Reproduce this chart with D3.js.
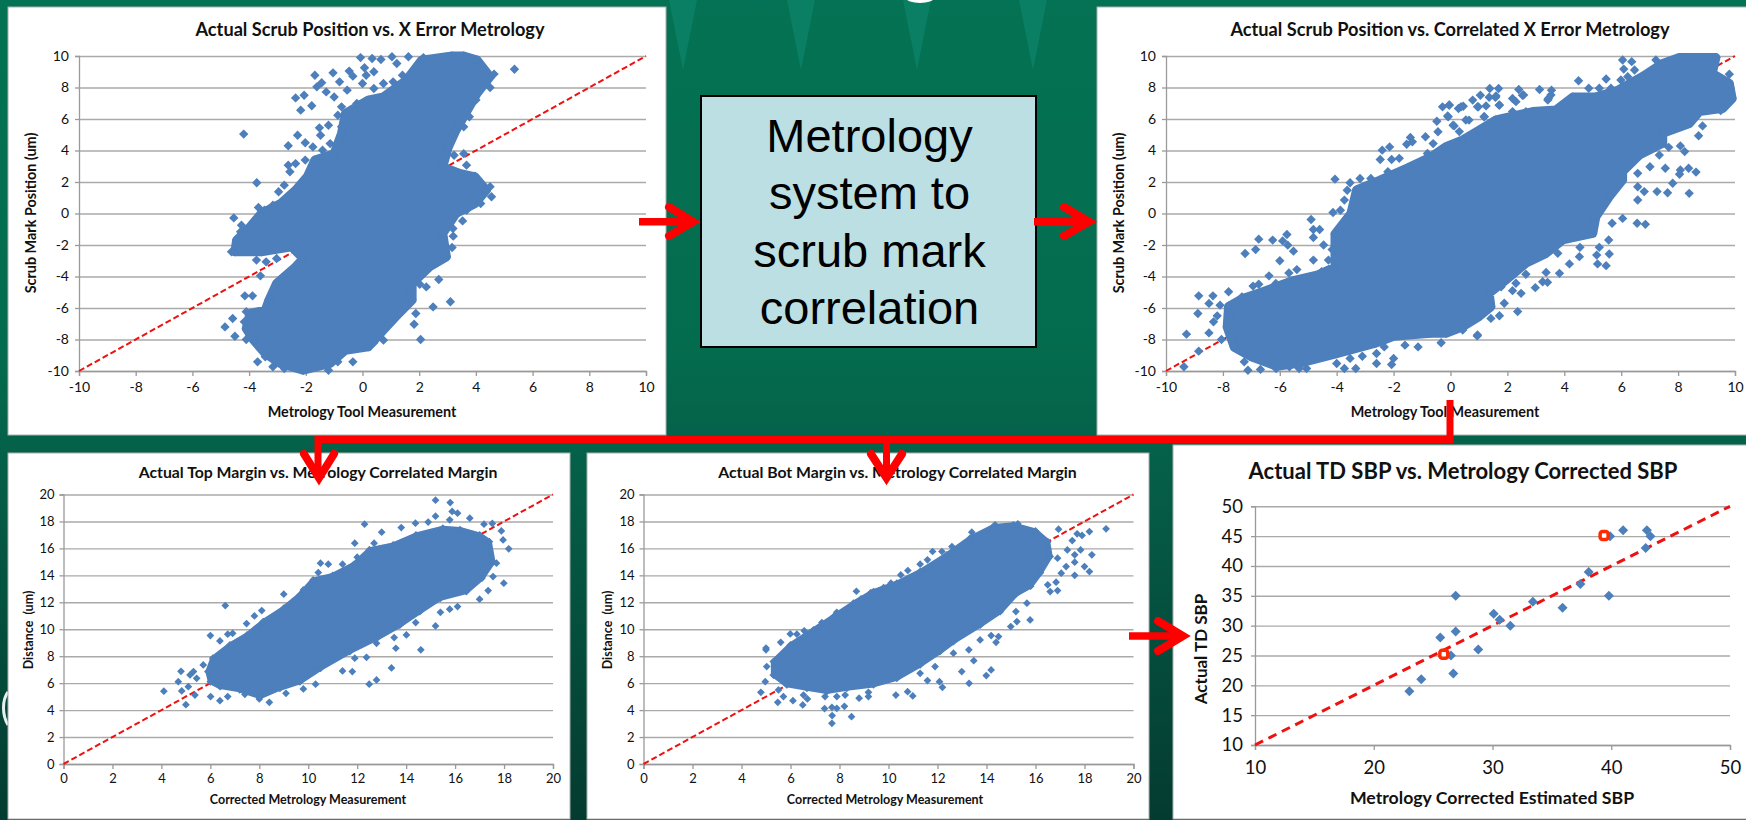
<!DOCTYPE html>
<html>
<head>
<meta charset="utf-8">
<title>Metrology correlation</title>
<script src="https://cdnjs.cloudflare.com/ajax/libs/d3/7.8.5/d3.min.js"></script>
<style>
	html, body { margin: 0; padding: 0; background: #05604a; overflow: hidden; }
	svg { display: block; }
	text { font-family: Lato, "Open Sans", sans-serif; fill: #111; }
	.grid path { display: none; }
	.grid text { display: none; }
</style>
</head>
<body>
<svg id="page" width="1746" height="820"></svg>
<script>

// Tick labels
var scrubTicks = [-10, -8, -6, -4, -2, 0, 2, 4, 6, 8, 10];
var marginTicks = [0, 2, 4, 6, 8, 10, 12, 14, 16, 18, 20];
var sbpTicksX = [10, 20, 30, 40, 50];
var sbpTicksY = [10, 15, 20, 25, 30, 35, 40, 45, 50];

// Scrub vs. X error: outline of the solid part of the cloud, then the loose points
var scrubOutline = [[3.16,10],[2.09,9.74],[1.55,8.47],[0.74,7.4],[0.2,7.2],[-0.6,6.35],[-0.74,5.08],[-1,3.8],[-1.68,3.39],[-1.95,2.33],[-2.36,1.48],[-2.89,0.63],[-3.57,0],[-3.97,-0.85],[-4.44,-1.69],[-4.5,-2.43],[-3.57,-2.43],[-2.5,-2.12],[-2.09,-2.86],[-2.36,-3.39],[-3.03,-4.44],[-3.3,-5.5],[-3.43,-6.14],[-3.97,-6.35],[-4.1,-7.3],[-3.84,-8.04],[-3.43,-8.89],[-2.9,-9.52],[-2.09,-9.95],[-1.14,-9.52],[-0.6,-8.68],[0.2,-8.47],[0.74,-7.4],[1.28,-6.35],[1.75,-5.5],[1.75,-4.44],[2.36,-3.39],[2.96,-2.75],[2.83,-1.27],[3.3,0],[3.97,0.63],[4.37,1.48],[3.97,2.33],[3.43,2.54],[2.83,2.96],[3.03,4.23],[3.3,5.29],[3.7,6.56],[4.04,7.62],[4.5,8.68],[4.04,9.74],[3.57,10]];
var scrubPoints = [[5.36,9.16],[4.64,8.85],[4.5,8],[4.35,8.8],[4,7.2],[3.77,6.14],[3.57,5.5],[3.23,3.7],[3.57,3.8],[3.67,3.07],[3.97,2.37],[4.5,1.7],[4.55,1.06],[4.17,0.63],[3.67,0.2],[3.53,-0.47],[3.19,-0.95],[3.2,-1.44],[3.16,-2.16],[2.93,-2.65],[2.69,-4.19],[2.25,-4.66],[2.02,-4.49],[2.49,-5.93],[3.1,-5.6],[2.05,-8],[1.82,-7.03],[1.88,-6.35],[0.74,-8.04],[0.4,-8.2],[-0.34,-9.42],[-0.87,-9.42],[-1.2,-9.95],[-3.7,-9.42],[-3.16,-9.73],[-2.76,-9.84],[-3.43,-9.1],[-4.1,-8],[-4.5,-7.79],[-4.85,-7.2],[-4.58,-6.67],[-4.17,-6.88],[-4.1,-6.24],[-4.15,-5.23],[-3.88,-5.23],[-3.6,-3.96],[-3.74,-2.96],[-3.4,-3.07],[-3.03,-2.86],[-4.62,-2.43],[-4.3,-2.33],[-4.54,-0.28],[-4.27,-0.74],[-4.3,-1.16],[-3.67,0.38],[-3.46,0.21],[-3.16,0.53],[-3.73,1.95],[-2.96,1.38],[-2.76,1.8],[-4.19,5.04],[-2.62,4.3],[-2.29,4.97],[-2.56,2.65],[-2.62,3.07],[-2.36,3.17],[-2.02,3.39],[-2.36,7.34],[-2.06,7.51],[-2.18,6.56],[-1.79,6.84],[-1.68,8.78],[-1.44,8.3],[-1.61,8.04],[-1.28,7.72],[-1.04,8.93],[-0.81,8.36],[-0.47,9.04],[-0.34,8.72],[-0.07,9.9],[0.07,9.25],[0,8.25],[0.34,9.84],[0.65,9.78],[1.04,9.95],[1.21,9.52],[1.62,9.95],[1.92,9],[2.15,9.9],[0.4,9],[0.13,8.78],[0.74,8.25],[1.08,8.36],[1.41,8.78],[0.4,7.94],[-1,7.4],[-0.87,6.24],[-0.74,6.77],[-0.54,7.83],[-0.2,6.98],[-1.2,5.6],[-1.52,5.44],[-0.74,5.5],[-1.48,4.97],[-2.02,4.49],[-1.75,4.23],[-1.41,4.02],[-1.14,4.44]];

// Scrub vs. correlated X error
var correlatedOutline = [[-7.8,-5.9],[-7.3,-5.4],[-6.5,-4.9],[-5.6,-4.3],[-4.66,-3.9],[-4.06,-3.4],[-4.06,-1.3],[-3.5,0],[-3.3,1.5],[-2.5,2.1],[-1.5,2.9],[-0.68,3.6],[-0.16,4.24],[0.43,4.67],[1.01,5.3],[1.6,5.94],[2.89,6.47],[3.7,6.57],[4.3,7.4],[5.1,7.4],[5.9,7.84],[6.75,8.7],[7.46,9.53],[8.04,9.9],[9.33,9.9],[9.2,8.9],[9.8,8.26],[9.9,7.3],[9.57,6.68],[8.75,6.47],[8.4,5.72],[7.46,5.09],[7.46,4.46],[6.64,3.71],[6.05,2.66],[6.05,2.13],[5.58,1.07],[5.11,-0.2],[5,-1.26],[3.94,-1.68],[3.36,-2.53],[2.65,-3.16],[1.95,-4.22],[1.36,-5.07],[1.42,-5.92],[1,-6.55],[0.43,-7.19],[-0.16,-7.6],[-0.7,-7.6],[-2,-7.8],[-2.67,-8.25],[-4,-8.9],[-5.3,-9.5],[-6.1,-9.7],[-7,-9.1],[-7.6,-8.5],[-7.85,-7.2]];
var correlatedPoints = [[-9.37,-9.73],[-9.28,-7.66],[-8.85,-8.74],[-8.85,-5.23],[-8.88,-6.35],[-8.49,-5.71],[-8.35,-5.23],[-8.1,-5.82],[-8.49,-7.58],[-8.33,-6.88],[-8.2,-6.5],[-8.05,-8],[-7.8,-4.97],[-7.33,-5.29],[-6.94,-4.61],[-6.74,-4.49],[-6.38,-3.96],[-6.14,-4.44],[-6,-3],[-5.68,-3.77],[-5.4,-3.56],[-7.22,-2.54],[-6.85,-2.29],[-6.74,-1.63],[-6.25,-1.69],[-5.9,-1.74],[-5.75,-1.33],[-5.72,-2.01],[-5.52,-2.39],[-4.9,-0.38],[-4.82,-1.02],[-4.6,-1.02],[-4.82,-1.52],[-4.46,-2],[-4.16,-2.29],[-4.82,-2.96],[-4.29,-2.96],[-4.53,-3.7],[-4.13,0.06],[-3.87,0.21],[-3.73,0.85],[-3.63,1.48],[-4.06,2.18],[-3.53,1.95],[-3.18,2.22],[-2.8,2.22],[-2.2,2.65],[-2.47,3.43],[-2.4,4.02],[-2.14,4.23],[-2.07,3.43],[-1.8,3.5],[-1.54,4.4],[-1.41,4.83],[-1.34,4.55],[-0.88,4.87],[-0.81,3.81],[-0.61,4.44],[-0.48,5.86],[-0.44,5.19],[-0.28,6.77],[-0.05,6.88],[-0.08,6.14],[0.28,6.67],[0.45,6.81],[0.09,5.6],[0.65,5.93],[0.78,7.2],[1.05,7.51],[0.98,6.77],[1.38,7.94],[1.69,7.94],[1.58,7.37],[1.71,6.88],[1.18,6.14],[2.18,7.3],[2.4,7.87],[2.53,7.51],[3.13,7.87],[3.55,7.83],[3.44,7.3],[2.65,6.46],
	[4.5,8.43],[5.47,8.54],[6.05,9.75],[6.37,9.64],[6.09,9.17],[6.47,9.11],[7.22,9.75],[5.99,8.48],[6.23,8.69],[4.86,7.95],[5.23,7.95],[5.64,7.95],[3.53,7.52],[3.42,7.21],[2.57,7.52],[1.36,7.38],[1.6,7.46],[1.72,6.89],[1.25,6.83],[0.95,6.78],[2.3,7.1],[2.18,6.47],[0.37,6.78],[-0.04,6.89],[-0.1,6.19],[0.54,5.94],[0.13,5.56],[0.31,5.2],[1.19,6.15],[9.8,8.84],[9.5,6.53],[8.86,5.56],[8.72,4.94],[8.08,4.29],[8.23,3.93],[7.67,4.2],[7.34,3.71],[7.01,2.97],[7.55,2.87],[8.08,2.76],[8.37,2.87],[8.63,2.63],[8.05,2.49],[7.81,1.92],[8.39,1.28],[7.26,1.39],[7.63,1.32],[6.81,1.39],[6.58,2.55],[6.58,1.7],[6.58,0.86],[6.05,-0.31],[6.56,-0.62],[6.85,-0.69],[5.68,-0.62],[5.56,-1.68],[5.23,-2.15],[5.58,-2.57],[5.14,-2.64],[5.17,-3.2],[5.47,-3.31],[4.55,-2.15],[4.53,-2.74],[4.18,-3.2],[3.83,-3.8],[3.77,-2.53],[3.36,-3.74],[2.65,-3.86],[3.24,-4.33],[3.41,-4.37],[2.98,-4.71],[2.3,-4.43],[2.48,-5.07],[2.18,-4.9],[1.78,-4.65],[1.89,-5.7],[2.36,-6.23],[1.72,-6.49],[1.42,-6.66],[1.07,-6.44],[0.95,-7.71],[0.43,-7.4],[-0.04,-7.5],
	[0.94,-7.77],[-0.33,-8.21],[-1.14,-8.47],[-1.6,-8.36],[-2,-9.2],[-2.07,-9.59],[-2.6,-9.52],[-2.6,-8.89],[-2.33,-8.47],[-3.1,-9.06],[-3.33,-9.84],[-3.73,-9.84],[-3.53,-9.2],[-4,-9.52],[-5.06,-9.84],[-5.32,-9.84],[-5.66,-9.73],[-6.13,-9.84],[-6.68,-9.9],[-7.12,-9.95],[-7.25,-9.42]];

// Top margin
var topOutline = [[5.9,6.86],[6.1,7.85],[6.8,8.84],[7.5,9.58],[8.16,10.57],[9,11.56],[9.66,12.55],[10.2,13.66],[11,14],[11.84,14.78],[12.5,15.9],[13.47,16.26],[14.4,17],[15.5,17.5],[16.2,17.4],[17,17],[17.4,16.5],[17.55,15],[17.1,13.8],[16.46,12.8],[15.4,12.3],[14.56,11.3],[13.74,10.3],[12.8,9.33],[11.7,8.34],[10.5,7.1],[9.66,6.1],[8.84,5.62],[8.03,5],[7.2,5.5],[6.4,5.74],[6,6.1]];
var topPoints = [[4.1,5.4],[5,4.4],[4.83,5.42],[4.69,6.11],[4.8,6.88],[5.37,5.12],[5.1,5.74],[6.01,5],[6.39,4.7],[6.71,5],[7.41,5.17],[8,4.83],[8.41,4.58],[9.09,5.25],[9.8,5.57],[10.3,5.92],[11.4,6.91],[11.8,6.86],[12.49,5.92],[12.79,6.24],[13.4,7.13],[14.6,8.47],[15.2,10.25],[13.58,8.59],[13.51,9.38],[11.9,7.85],[12.38,7.92],[12.79,8.96],[14.01,9.58],[14.39,10.5],[15.4,11.26],[15.78,11.49],[16.1,11.68],[17,12.23],[17.35,12.87],[17.99,13.42],[17.55,13.91],[17.69,14.9],[18.19,15.97],[17.96,16.63],[17.89,17.3],[17.52,17.85],[17.18,17.8],[16.6,18.24],[16.1,18.61],[15.78,18.12],[15.88,18.74],[15.8,19.4],[15.2,19.58],[15.2,18.39],[14.9,17.95],[14.38,17.87],[13.8,17.55],[13,17.2],[12.3,17.8],[11.9,16.39],[12.69,16.39],[12,15.35],[11.4,14.83],[10.82,14.83],[10.5,14.9],[10.41,14.21],[9.8,12.92],[9,12.6],[8.1,11.39],[7.8,10.99],[7.48,10.42],[6.61,11.76],[6,9.53],[6.39,9.13],[6.71,9.63],[6.91,9.7],[5.71,7.35],[5.44,6.36],[5.17,6.61],[5.31,6.86]];

// Bottom margin
var botOutline = [[5.3,7.6],[6,8.84],[6.94,9.95],[7.76,10.94],[8.57,11.93],[9.39,12.8],[10.34,13.42],[11.29,14.28],[12.38,15.52],[13.33,16.76],[14.29,17.62],[15.1,17.75],[16,17.3],[16.5,16.5],[16.6,15.4],[16.2,14.2],[15.8,13.2],[15.2,12.6],[14.56,11.3],[13.74,10.3],[12.65,9.08],[12.1,8.34],[11.29,7.35],[10.34,6.36],[9.39,5.87],[8.3,5.62],[7.48,5.37],[6.67,5.62],[5.85,5.87],[5.3,6.6]];
var botPoints = [[4.79,5.32],[5.48,4.58],[6.1,4.7],[6.5,4.38],[6.69,4.83],[6.53,5.12],[5.71,5],[5.51,5.5],[7.39,4.11],[7.69,4.21],[7.89,4.13],[8.2,4.28],[7.7,3.59],[7.69,3.02],[8.49,3.51],[7.41,5],[7.89,5],[8.23,5.12],[8.8,4.88],[9.18,5],[9.18,5.32],[10.3,5.12],[10.78,5.37],[10.99,5.05],[11.59,6.19],[12.08,6.11],[12.2,5.69],[13.29,5.99],[12.99,6.86],[13.99,6.56],[14.19,6.98],[13.48,7.67],[13.28,8.47],[12.65,8.22],[11.9,7.23],[11.29,6.73],[14.39,9.03],[14.49,9.46],[14.19,9.53],[13.74,9.21],[14.99,10.2],[15.24,10.57],[15.78,10.69],[15.2,11.31],[15.65,11.93],[5,8.47],[5,8.6],[5.6,9.03],[5.03,7.23],[4.97,6.11],[5.99,9.65],[6.26,9.63],[6.56,9.88],[7.28,10.5],[7.69,10.64],[7.89,11.26],[8.44,11.56],[8.69,12.82],[8.88,12.25],[9.28,12.72],[9.8,13.09],[10.1,13.42],[10.5,14.03],[10.79,14.36],[11.29,14.83],[11.59,15.15],[11.8,15.77],[12.18,15.77],[12.59,16.14],[13.4,17.2],[14.35,17.75],[15.28,17.82],[18.88,17.45],[18.2,17.25],[17.9,16.96],[17.7,17.08],[17.5,16.58],[16.94,17.43],[17.3,15.89],[17.84,15.89],[18.3,15.52],[17.6,15.52],[17.6,14.98],[18,14.65],[18.2,14.28],[17.6,14],[17.25,14.65],[16.9,12.87],[16.6,12.8],[16.84,13.49],[17.05,14.16],[16.5,13.3],[16.9,15.27]];

// SBP
var sbpEstimated = [23, 24, 25.6, 26.5, 26.7, 26.9, 26.9, 28.8, 30.1, 30.6, 31.5, 33.4, 35.9, 37.4, 38.1, 39.8, 39.9, 41, 42.9, 43, 43.3];
var sbpActual = [19, 21, 28, 25, 22, 35, 29, 26, 32, 31, 30, 34, 33, 37, 39, 35, 45, 46, 43, 46, 45];
var sbpFlagged = [[25.9, 25.2], [39.4, 45.1]];

var boxLines = ["Metrology", "system to", "scrub mark", "correlation"];

var svg = d3.select("#page");

// Background
var defs = svg.append("defs");
var bg = defs.append("linearGradient").attr("id", "bg").attr("x1", 0).attr("y1", 0).attr("x2", 0).attr("y2", 1);
bg.append("stop").attr("offset", "0").attr("stop-color", "#047254");
bg.append("stop").attr("offset", "0.42").attr("stop-color", "#046c4e");
bg.append("stop").attr("offset", "0.58").attr("stop-color", "#055e48");
bg.append("stop").attr("offset", "1").attr("stop-color", "#043b30");
svg.append("rect").attr("width", 1746).attr("height", 820).attr("fill", "url(#bg)");

[683, 801, 917, 1033].forEach(function(x){
	svg.append("path")
		.attr("d", "M" + (x - 14) + ",0L" + (x + 14) + ",0L" + x + ",70Z")
		.attr("fill", "#0a7f63");
});
svg.append("ellipse").attr("cx", 920).attr("cy", -2).attr("rx", 14).attr("ry", 5).attr("fill", "#fff");
svg.append("path").attr("d", "M8,692C2,700 2,715 8,725").attr("fill", "none").attr("stroke", "#e8efec").attr("stroke-width", 3);

// Draws one white panel with its scatter chart
function drawChart(c){
	var g = svg.append("g");

	g.append("rect")
		.attr("x", c.panel[0]).attr("y", c.panel[1])
		.attr("width", c.panel[2] - c.panel[0]).attr("height", c.panel[3] - c.panel[1])
		.attr("fill", "#fff").attr("stroke", "#a9b0ad").attr("stroke-width", 1);

	var x = d3.scaleLinear().domain(c.xDomain).range([c.plot[0], c.plot[2]]);
	var y = d3.scaleLinear().domain(c.yDomain).range([c.plot[3], c.plot[1]]);
	var w = c.plot[2] - c.plot[0];

	g.append("g").attr("class", "grid")
		.attr("transform", "translate(" + c.plot[0] + ",0)")
		.call(d3.axisLeft(y).tickValues(c.yTicks).tickSize(-w))
		.selectAll("line").attr("stroke", "#aaaaaa").attr("stroke-width", 1.4);

	var yAxis = g.append("g")
		.attr("transform", "translate(" + c.plot[0] + ",0)")
		.call(d3.axisLeft(y).tickValues(c.yTicks).tickSize(4).tickPadding(c.pad[0]).tickFormat(String));
	var xAxis = g.append("g")
		.attr("transform", "translate(0," + c.plot[3] + ")")
		.call(d3.axisBottom(x).tickValues(c.xTicks).tickSize(5).tickPadding(c.pad[1]).tickFormat(String));
	[yAxis, xAxis].forEach(function(a){
		a.selectAll("path,line").attr("stroke", "#9a9a9a").attr("stroke-width", 1.3);
		a.selectAll("text").attr("font-size", c.tickSize).attr("font-family", "Lato").attr("fill", "#222");
	});

	// y = x reference line
	g.append("line")
		.attr("x1", x(c.xDomain[0])).attr("y1", y(c.yDomain[0]))
		.attr("x2", x(c.xDomain[1])).attr("y2", y(c.yDomain[1]))
		.attr("stroke", "#f01010").attr("stroke-width", c.dash[0])
		.attr("stroke-dasharray", c.dash[1]);

	var color = "#4c7fbb";
	var line = d3.line().x(function(d){ return x(d[0]); }).y(function(d){ return y(d[1]); }).curve(d3.curveLinearClosed);

	if(c.outline){
		g.append("path").attr("d", line(c.outline))
			.attr("fill", color).attr("stroke", color).attr("stroke-width", c.blobEdge)
			.attr("stroke-linejoin", "round");
	}

	var symbol = d3.symbol().type(d3.symbolSquare).size(c.marker);
	g.selectAll(".pt").data((c.outline || []).concat(c.points)).enter().append("path")
		.attr("class", "pt")
		.attr("d", symbol)
		.attr("fill", color)
		.attr("transform", function(d){ return "translate(" + x(d[0]) + "," + y(d[1]) + ") rotate(45)"; });

	if(c.flagged){
		g.selectAll(".flag").data(c.flagged).enter().append("rect")
			.attr("class", "flag")
			.attr("x", function(d){ return x(d[0]) - 4; })
			.attr("y", function(d){ return y(d[1]) - 4; })
			.attr("width", 8).attr("height", 8).attr("rx", 2.5)
			.attr("fill", "#fff").attr("stroke", "#ff2a00").attr("stroke-width", 3.5);
	}

	// Titles
	g.append("text").attr("x", c.title[1]).attr("y", c.title[2])
		.attr("text-anchor", "middle").attr("font-weight", 700).attr("font-size", c.title[3]).text(c.title[0]);
	g.append("text").attr("x", c.xTitle[1]).attr("y", c.xTitle[2])
		.attr("text-anchor", "middle").attr("font-weight", 700).attr("font-size", c.xTitle[3]).text(c.xTitle[0]);
	g.append("text")
		.attr("transform", "translate(" + c.yTitle[1] + "," + c.yTitle[2] + ") rotate(-90)")
		.attr("text-anchor", "middle").attr("font-weight", 700).attr("font-size", c.yTitle[3])
		.attr("xml:space", "preserve").text(c.yTitle[0]);
}

drawChart({
	panel: [8, 7, 666, 435], plot: [79, 56, 646, 371],
	xDomain: [-10, 10], yDomain: [-10, 10], xTicks: scrubTicks, yTicks: scrubTicks,
	outline: scrubOutline, points: scrubPoints, marker: 44, blobEdge: 9, tickSize: 14, pad: [6, 6],
	dash: [2, "6,3"],
	title: ["Actual Scrub Position vs. X Error Metrology", 370, 36, 18.2],
	xTitle: ["Metrology Tool Measurement", 362, 417, 14.4],
	yTitle: ["Scrub Mark Position (um)", 36, 213, 14.4]
});
drawChart({
	panel: [1097, 7, 1750, 435], plot: [1166, 56, 1735, 371],
	xDomain: [-10, 10], yDomain: [-10, 10], xTicks: scrubTicks, yTicks: scrubTicks,
	outline: correlatedOutline, points: correlatedPoints, marker: 44, blobEdge: 9, tickSize: 14, pad: [6, 6],
	dash: [2, "6,3"],
	title: ["Actual Scrub Position vs. Correlated X Error Metrology", 1450, 36, 18.2],
	xTitle: ["Metrology Tool Measurement", 1445, 417, 14.4],
	yTitle: ["Scrub Mark Position (um)", 1124, 213, 14.4]
});
drawChart({
	panel: [8, 453, 570, 819], plot: [63.5, 494.5, 553, 764],
	xDomain: [0, 20], yDomain: [0, 20], xTicks: marginTicks, yTicks: marginTicks,
	outline: topOutline, points: topPoints, marker: 30, blobEdge: 5, tickSize: 13, pad: [5, 5],
	dash: [2, "6,3"],
	title: ["Actual Top Margin vs. Metrology Correlated Margin", 318, 478, 15.8],
	xTitle: ["Corrected Metrology Measurement", 308, 804, 12.5],
	yTitle: ["Distance  (um)", 33, 630, 12.5]
});
drawChart({
	panel: [587, 453, 1149, 819], plot: [643.5, 494.5, 1133.5, 764],
	xDomain: [0, 20], yDomain: [0, 20], xTicks: marginTicks, yTicks: marginTicks,
	outline: botOutline, points: botPoints, marker: 30, blobEdge: 5, tickSize: 13, pad: [5, 5],
	dash: [2, "6,3"],
	title: ["Actual Bot Margin vs. Metrology Correlated Margin", 897.5, 478, 15.8],
	xTitle: ["Corrected Metrology Measurement", 885, 804, 12.5],
	yTitle: ["Distance  (um)", 612, 630, 12.5]
});
drawChart({
	panel: [1173, 445, 1750, 819], plot: [1255, 506.3, 1730, 745],
	xDomain: [10, 50], yDomain: [10, 50], xTicks: sbpTicksX, yTicks: sbpTicksY,
	points: d3.zip(sbpEstimated, sbpActual), flagged: sbpFlagged,
	marker: 50, tickSize: 18.5, pad: [8, 11],
	dash: [3, "9,6"],
	title: ["Actual TD SBP vs. Metrology Corrected SBP", 1463, 479, 22],
	xTitle: ["Metrology Corrected Estimated SBP", 1492, 804, 17.7],
	yTitle: ["Actual TD SBP", 1207, 649, 17]
});

// Text box in the middle
svg.append("rect").attr("x", 701).attr("y", 96).attr("width", 335).attr("height", 251)
	.attr("fill", "#bbdfe3").attr("stroke", "#000").attr("stroke-width", 2);
svg.selectAll(".boxline").data(boxLines).enter().append("text")
	.attr("class", "boxline")
	.attr("x", 869.5)
	.attr("y", function(d, i){ return 152 + i * 57.3; })
	.attr("text-anchor", "middle")
	.attr("font-size", 47)
	.style("font-family", "'Liberation Sans', Arial, sans-serif")
	.style("fill", "#000")
	.text(function(d){ return d; });

// Red flow arrows
function arrow(d, w, cap){
	svg.append("path").attr("d", d).attr("fill", "none")
		.attr("stroke", "#ff0000").attr("stroke-width", w)
		.attr("stroke-linecap", cap || "butt")
		.attr("stroke-linejoin", "miter");
}
arrow("M639,221.7H690", 7.5);
arrow("M669,207L693,221.7L669,236", 8, "round");
arrow("M1034,221.7H1086", 7.5);
arrow("M1064,207L1089,221.7L1064,236", 8, "round");
arrow("M1450,400V439.5H318V478", 7);
arrow("M886.5,439.5V478", 7);
arrow("M304,454L319,478L334,454", 8, "round");
arrow("M871,454L886.5,478L902,454", 8, "round");
arrow("M1129,636H1180", 7.5);
arrow("M1158,621L1183,636L1158,651", 8, "round");

</script>
</body>
</html>
